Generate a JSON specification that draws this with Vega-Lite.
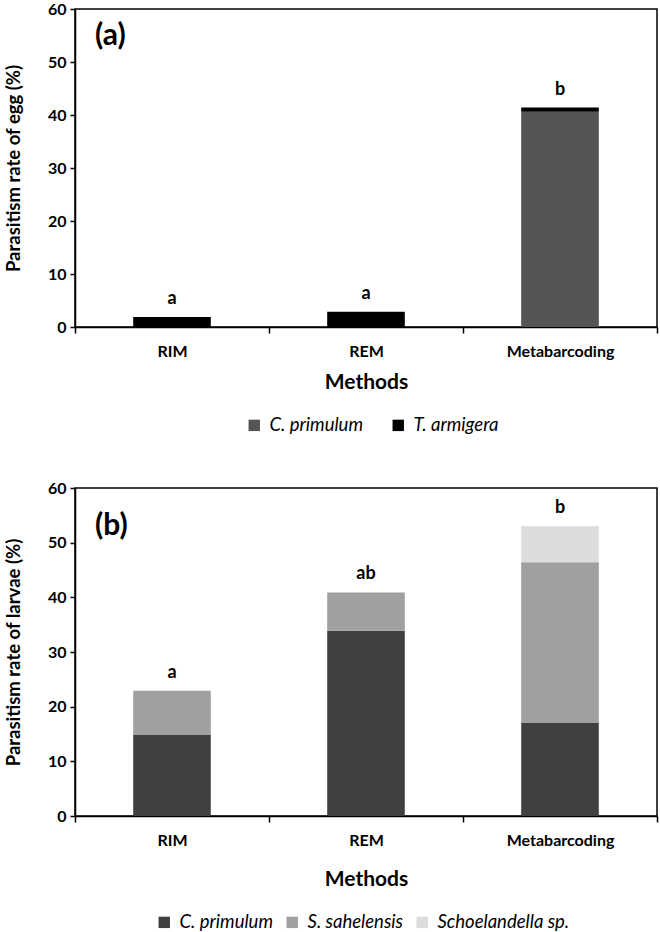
{
  "$schema": "https://vega.github.io/schema/vega-lite/v6.json",
  "padding": {"left": 3, "top": 0, "right": 2, "bottom": 0},
  "background": "white",
  "config": {
    "font": "Lato",
    "view": {"stroke": "black", "strokeWidth": 1.5},
    "axis": {
      "domainColor": "black", "domainWidth": 1.5, "tickColor": "black", "tickWidth": 1.5,
      "labelFont": "Lato", "labelFontWeight": "bold", "labelFontSize": 16, "labelColor": "black",
      "titleFont": "Lato", "titleFontWeight": "bold", "titleColor": "black", "grid": false
    },
    "legend": {"labelFont": "Lato", "labelFontStyle": "italic", "labelFontSize": 18.5, "labelColor": "black", "symbolType": "square", "symbolSize": 130, "symbolStrokeWidth": 0}
  },
  "datasets": {
    "egg": [
      {"method": "RIM", "species": "T. armigera", "order": 2, "rate": 1.9},
      {"method": "REM", "species": "T. armigera", "order": 2, "rate": 2.9},
      {"method": "Metabarcoding", "species": "C. primulum", "order": 1, "rate": 40.6},
      {"method": "Metabarcoding", "species": "T. armigera", "order": 2, "rate": 0.8}
    ],
    "eggLetters": [
      {"method": "RIM", "total": 1.9, "letter": "a"},
      {"method": "REM", "total": 2.9, "letter": "a"},
      {"method": "Metabarcoding", "total": 41.4, "letter": "b"}
    ],
    "larvae": [
      {"method": "RIM", "species": "C. primulum", "order": 1, "rate": 14.9},
      {"method": "RIM", "species": "S. sahelensis", "order": 2, "rate": 8.0},
      {"method": "REM", "species": "C. primulum", "order": 1, "rate": 33.9},
      {"method": "REM", "species": "S. sahelensis", "order": 2, "rate": 7.0},
      {"method": "Metabarcoding", "species": "C. primulum", "order": 1, "rate": 17.0},
      {"method": "Metabarcoding", "species": "S. sahelensis", "order": 2, "rate": 29.4},
      {"method": "Metabarcoding", "species": "Schoelandella sp.", "order": 3, "rate": 6.6}
    ],
    "larvaeLetters": [
      {"method": "RIM", "total": 22.9, "letter": "a"},
      {"method": "REM", "total": 40.9, "letter": "ab"},
      {"method": "Metabarcoding", "total": 53.0, "letter": "b"}
    ],
    "panelA": [{"label": "(a)", "method": "RIM", "y": 55.0}],
    "panelB": [{"label": "(b)", "method": "RIM", "y": 53.0}]
  },
  "resolve": {"scale": {"color": "independent"}},
  "spacing": 43,
  "vconcat": [
    {
      "width": 582, "height": 318,
      "layer": [
        {
          "data": {"name": "egg"},
          "mark": {"type": "bar", "width": {"band": 0.4}},
          "encoding": {
            "x": {"field": "method", "type": "nominal", "sort": ["RIM", "REM", "Metabarcoding"],
                  "scale": {"paddingInner": 0, "paddingOuter": 0},
                  "axis": {"title": "Methods", "labelAngle": 0, "tickBand": "extent", "tickSize": 6, "labelPadding": 10, "titleFontSize": 21, "titlePadding": 12}},
            "y": {"field": "rate", "type": "quantitative", "stack": "zero",
                  "scale": {"domain": [0, 60]},
                  "axis": {"title": "Parasitism rate of egg (%)", "values": [0, 10, 20, 30, 40, 50, 60], "tickSize": 5, "labelPadding": 4, "titleFontSize": 18.5, "titlePadding": 24}},
            "color": {"field": "species", "type": "nominal",
                      "scale": {"domain": ["C. primulum", "T. armigera"], "range": ["#555555", "#000000"]},
                      "legend": {"title": null, "orient": "none", "direction": "horizontal", "legendX": 170, "legendY": 407, "columnPadding": 26, "labelOffset": 6}},
            "order": {"field": "order", "type": "quantitative"}
          }
        },
        {
          "data": {"name": "eggLetters"},
          "mark": {"type": "text", "fontWeight": "bold", "fontSize": 18, "font": "Lato", "baseline": "bottom", "dy": -9},
          "encoding": {
            "x": {"field": "method", "type": "nominal", "sort": ["RIM", "REM", "Metabarcoding"]},
            "y": {"field": "total", "type": "quantitative"},
            "text": {"field": "letter"}
          }
        },
        {
          "data": {"name": "panelA"},
          "mark": {"type": "text", "fontWeight": "bold", "fontSize": 30, "font": "Lato", "align": "left", "dx": -77},
          "encoding": {
            "x": {"field": "method", "type": "nominal", "sort": ["RIM", "REM", "Metabarcoding"]},
            "y": {"field": "y", "type": "quantitative"},
            "text": {"field": "label"}
          }
        }
      ]
    },
    {
      "width": 582, "height": 328,
      "layer": [
        {
          "data": {"name": "larvae"},
          "mark": {"type": "bar", "width": {"band": 0.4}},
          "encoding": {
            "x": {"field": "method", "type": "nominal", "sort": ["RIM", "REM", "Metabarcoding"],
                  "scale": {"paddingInner": 0, "paddingOuter": 0},
                  "axis": {"title": "Methods", "labelAngle": 0, "tickBand": "extent", "tickSize": 6, "labelPadding": 10, "titleFontSize": 21, "titlePadding": 20}},
            "y": {"field": "rate", "type": "quantitative", "stack": "zero",
                  "scale": {"domain": [0, 60]},
                  "axis": {"title": "Parasitism rate of larvae (%)", "values": [0, 10, 20, 30, 40, 50, 60], "tickSize": 5, "labelPadding": 4, "titleFontSize": 18.5, "titlePadding": 24}},
            "color": {"field": "species", "type": "nominal",
                      "scale": {"domain": ["C. primulum", "S. sahelensis", "Schoelandella sp."], "range": ["#404040", "#a0a0a0", "#dcdcdc"]},
                      "legend": {"title": null, "orient": "none", "direction": "horizontal", "legendX": 80, "legendY": 425, "columnPadding": 10, "labelOffset": 6}},
            "order": {"field": "order", "type": "quantitative"}
          }
        },
        {
          "data": {"name": "larvaeLetters"},
          "mark": {"type": "text", "fontWeight": "bold", "fontSize": 18, "font": "Lato", "baseline": "bottom", "dy": -9},
          "encoding": {
            "x": {"field": "method", "type": "nominal", "sort": ["RIM", "REM", "Metabarcoding"]},
            "y": {"field": "total", "type": "quantitative"},
            "text": {"field": "letter"}
          }
        },
        {
          "data": {"name": "panelB"},
          "mark": {"type": "text", "fontWeight": "bold", "fontSize": 30, "font": "Lato", "align": "left", "dx": -77},
          "encoding": {
            "x": {"field": "method", "type": "nominal", "sort": ["RIM", "REM", "Metabarcoding"]},
            "y": {"field": "y", "type": "quantitative"},
            "text": {"field": "label"}
          }
        }
      ]
    }
  ]
}
